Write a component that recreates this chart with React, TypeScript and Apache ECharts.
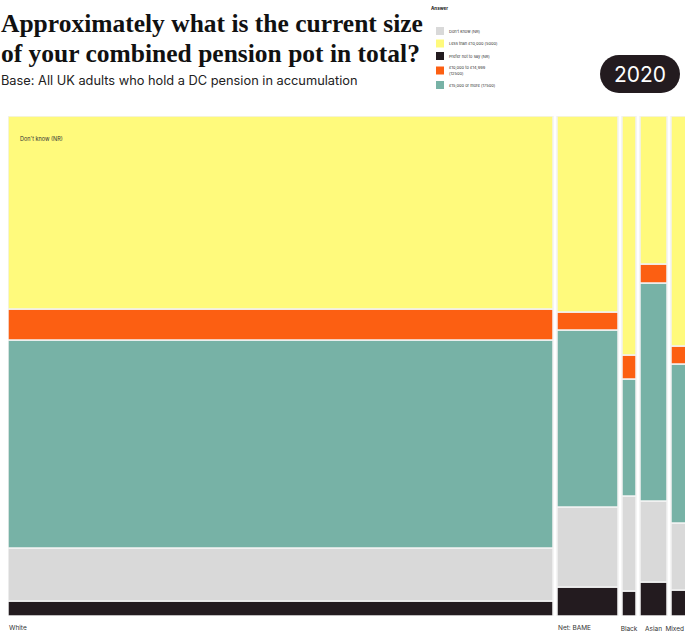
import React, { useEffect, useRef } from "react";
import * as echarts from "echarts";

const categories = ["White", "Net: BAME", "Black", "Asian", "Mixed"];
const columnWeights = [545, 61, 14, 27, 16];

const answerNames = [
  "Prefer not to say (NR)",
  "Don't know (NR)",
  "£15,000 or more (17500)",
  "£10,000 to £14,999 (12500)",
  "Less than £10,000 (5000)",
];
const preferNotToSay = [3.0, 5.8, 5.0, 6.8, 5.2];
const dontKnow = [10.6, 16.0, 19.0, 16.2, 13.4];
const over15000 = [41.6, 35.4, 23.4, 43.6, 31.8];
const from10000to14999 = [6.2, 3.6, 4.8, 3.8, 3.6];
const lessThan10000 = [38.6, 39.2, 47.8, 29.6, 46.0];
const seriesValues = [preferNotToSay, dontKnow, over15000, from10000to14999, lessThan10000];
const answerColors = ["#231b1f", "#d9d9d9", "#77b2a6", "#fc5f12", "#fffa7c"];
const legendOrder = [
  "Don't know (NR)",
  "Less than £10,000 (5000)",
  "Prefer not to say (NR)",
  "£10,000 to £14,999 (12500)",
  "£15,000 or more (17500)",
];

const GAP = 4;
const X_MAX = 677;
const PAGE_W = 685;

export default function App() {
  const ref = useRef<HTMLDivElement>(null);
  useEffect(() => {
    document.body.style.margin = "0";
    if (!ref.current) return;
    const chart = echarts.init(ref.current, null, { renderer: "svg" });

    const starts: number[] = [];
    let acc = 0;
    columnWeights.forEach((w) => {
      starts.push(acc);
      acc += w + GAP;
    });

    const rectSeries = answerNames.map((name, si) => {
      const data = categories.map((_, ci) => {
        let low = 0;
        for (let k = 0; k < si; k++) low += seriesValues[k][ci];
        return [starts[ci], starts[ci] + columnWeights[ci], low, low + seriesValues[si][ci]];
      });
      return {
        type: "custom",
        name,
        clip: true,
        itemStyle: { color: answerColors[si] },
        data,
        renderItem: (params: any, api: any) => {
          const p0 = api.coord([api.value(0), api.value(3)]);
          const p1 = api.coord([api.value(1), api.value(2)]);
          return {
            type: "rect",
            shape: { x: p0[0], y: p0[1], width: p1[0] - p0[0], height: p1[1] - p0[1] },
            style: { fill: answerColors[si], stroke: "#f2f2f2", lineWidth: 1.5 },
          };
        },
      };
    });

    const labelSeries = {
      type: "custom",
      name: "labels",
      clip: false,
      silent: true,
      data: categories.map((c, ci) => [starts[ci], starts[ci] + columnWeights[ci], ci]),
      renderItem: (params: any, api: any) => {
        const a = api.coord([api.value(0), 0]);
        const b = api.coord([api.value(1), 0]);
        const ci = api.value(2);
        const wide = b[0] - a[0] > 40;
        let x = wide ? a[0] + 1 : (a[0] + b[0]) / 2;
        let align = wide ? "left" : "center";
        if (!wide && x + 11 > PAGE_W) {
          x = PAGE_W - 1;
          align = "right";
        }
        return {
          type: "text",
          x,
          y: a[1] + (wide ? 12 : 13),
          style: {
            text: categories[ci],
            fill: "#333",
            fontSize: 6.5,
            fontFamily: "Inter",
            align,
            verticalAlign: "middle",
          },
        };
      },
    };

    chart.setOption({
      animation: false,
      grid: { left: 8, right: 0, top: 116, bottom: 18 },
      xAxis: { type: "value", min: 0, max: X_MAX, show: false },
      yAxis: { type: "value", min: 0, max: 100, show: false },
      legend: {
        data: legendOrder,
        orient: "vertical",
        left: 431,
        top: 22,
        itemWidth: 8,
        itemHeight: 8,
        itemGap: 4.5,
        icon: "rect",
        selectedMode: false,
        textStyle: { fontSize: 4, color: "#333", fontFamily: "Inter", lineHeight: 6 },
        formatter: (name: string) =>
          name === "£10,000 to £14,999 (12500)" ? "£10,000 to £14,999\n(12500)" : name,
      },
      graphic: [
        {
          type: "text",
          left: 1,
          top: 8,
          z: 100,
          style: {
            text: "Approximately what is the current size\nof your combined pension pot in total?",
            font: "bold 25.5px 'Liberation Serif'",
            fill: "#111",
            lineHeight: 30,
          },
        },
        {
          type: "text",
          left: 1,
          top: 74,
          z: 100,
          style: {
            text: "Base: All UK adults who hold a DC pension in accumulation",
            font: "12.8px Inter",
            fill: "#222",
          },
        },
        {
          type: "text",
          left: 431,
          top: 6,
          z: 100,
          style: { text: "Answer", font: "bold 4.5px Inter", fill: "#222" },
        },
        {
          type: "rect",
          z: 100,
          shape: { x: 600, y: 55, width: 80, height: 38, r: 19 },
          style: { fill: "#231b1f" },
        },
        {
          type: "text",
          x: 640,
          y: 74,
          z: 101,
          style: {
            text: "2020",
            font: "21px Inter",
            fill: "#fff",
            align: "center",
            verticalAlign: "middle",
          },
        },
        {
          type: "text",
          left: 20,
          top: 136,
          z: 100,
          style: { text: "Don't know (NR)", font: "5.5px Inter", fill: "#333" },
        },
      ],
      series: [...rectSeries, labelSeries],
    });
    return () => chart.dispose();
  }, []);
  return <div ref={ref} style={{ width: 685, height: 634 }} />;
}
